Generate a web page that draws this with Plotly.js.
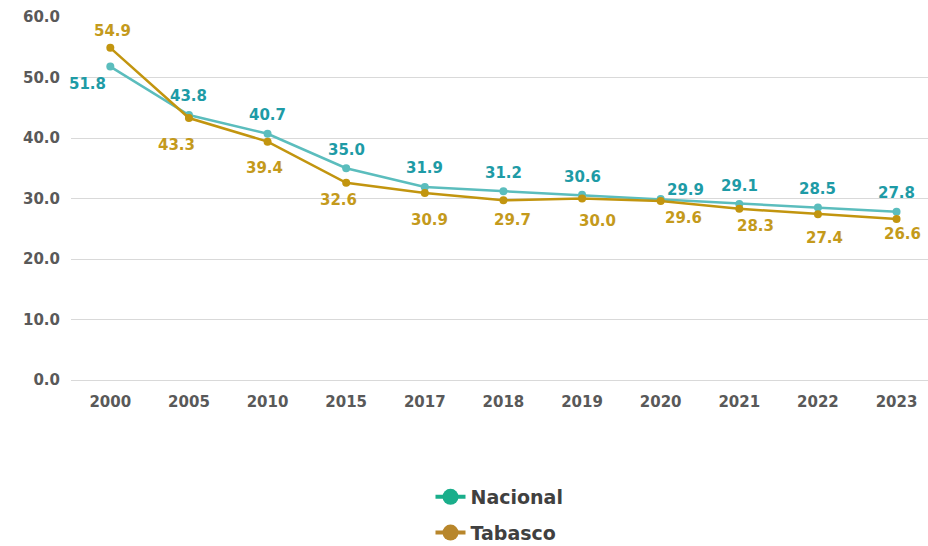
<!DOCTYPE html>
<html>
<head>
<meta charset="utf-8">
<script src="https://cdn.plot.ly/plotly-3.0.1.min.js"></script>
<style>html,body{margin:0;padding:0;background:#fff}#chart{width:928px;height:546px}</style>
</head>
<body>
<div id="chart"></div>
<script>
const years = ["2000","2005","2010","2015","2017","2018","2019","2020","2021","2022","2023"];
const nacional = [51.8,43.8,40.7,35.0,31.9,31.2,30.6,29.9,29.1,28.5,27.8];
const tabasco = [54.9,43.3,39.4,32.6,30.9,29.7,30.0,29.6,28.3,27.4,26.6];
const yTicks = [0,10,20,30,40,50,60];

// label offsets in pixels [xshift, yshift]
const nacOffsets = [[-23,-17],[0,19],[0,19],[0,18],[0,19],[0,18],[0,18],[25,9],[0,18],[0,19],[0,19]];
const tabOffsets = [[2,17],[-12,-27],[-3,-26],[-8,-17],[5,-27],[9,-20],[15,-22],[23,-17],[16,-17],[7,-24],[6,-15]];

const fontFam = "DejaVu Sans, Verdana, sans-serif";
const nacLine = "#5BBDBD", tabLine = "#C2950F";
const nacText = "#1E9BA6", tabText = "#C49A1C";

const traces = [
  {x: years, y: nacional, type: "scatter", mode: "lines+markers", name: "Nacional", showlegend: false,
   line: {color: nacLine, width: 2.5}, marker: {color: nacLine, size: 8}},
  {x: years, y: tabasco, type: "scatter", mode: "lines+markers", name: "Tabasco", showlegend: false,
   line: {color: tabLine, width: 2.5}, marker: {color: tabLine, size: 8}},
  {x: [null], y: [null], type: "scatter", mode: "lines+markers", name: "Nacional", legendgroup: "a",
   line: {color: "#1AAE8B", width: 4}, marker: {color: "#1AAE8B", size: 17}},
  {x: [null], y: [null], type: "scatter", mode: "lines+markers", name: "Tabasco", legendgroup: "b",
   line: {color: "#B8862B", width: 4}, marker: {color: "#B8862B", size: 17}}
];

const annotations = [];
years.forEach((yr, i) => {
  annotations.push({x: i, y: nacional[i], xref: "x", yref: "y", text: nacional[i].toFixed(1), showarrow: false,
    xshift: nacOffsets[i][0], yshift: nacOffsets[i][1],
    font: {family: fontFam, size: 15, color: nacText, weight: "bold"}});
  annotations.push({x: i, y: tabasco[i], xref: "x", yref: "y", text: tabasco[i].toFixed(1), showarrow: false,
    xshift: tabOffsets[i][0], yshift: tabOffsets[i][1],
    font: {family: fontFam, size: 15, color: tabText, weight: "bold"}});
});

const layout = {
  width: 928, height: 546,
  margin: {l: 71, r: 0, t: 17, b: 166, autoexpand: false},
  paper_bgcolor: "#fff", plot_bgcolor: "#fff",
  font: {family: fontFam},
  xaxis: {type: "category", range: [-0.5, 10.4], showgrid: false, zeroline: false, showline: false,
    ticks: "", ticklabelstandoff: 11, automargin: false,
    tickfont: {family: fontFam, size: 15, color: "#595959", weight: "bold"}},
  yaxis: {range: [0, 60], tickvals: yTicks, ticktext: yTicks.map(v => v.toFixed(1)),
    showgrid: true, gridcolor: "#D9D9D9", gridwidth: 1, zeroline: true, zerolinecolor: "#D9D9D9",
    showline: false, ticks: "", ticklabelstandoff: 10, automargin: false,
    tickfont: {family: fontFam, size: 15, color: "#595959", weight: "bold"}},
  showlegend: true,
  legend: {x: 0.5, xanchor: "center", y: -0.27, yanchor: "top", orientation: "v",
    tracegroupgap: 8, bgcolor: "rgba(0,0,0,0)",
    font: {family: fontFam, size: 19, color: "#404040", weight: "bold"}},
  annotations: annotations
};

Plotly.newPlot("chart", traces, layout, {displayModeBar: false, staticPlot: true});
</script>
</body>
</html>
